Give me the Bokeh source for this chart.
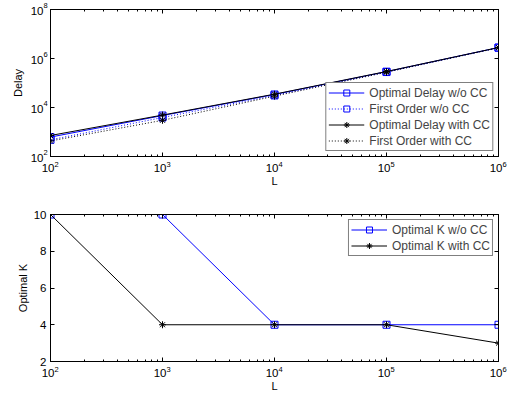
from bokeh.plotting import figure
from bokeh.models import (FixedTicker, LogAxis, LinearAxis, Legend, LegendItem,
                          Range1d, CustomJSTickFormatter)
from bokeh.core.properties import value
from bokeh.layouts import column
from bokeh.embed import file_html
from bokeh.resources import INLINE

# ---------------- data ----------------
L = [1e2, 1e3, 1e4, 1e5, 1e6]
delay_opt_wo_cc = [620, 4700, 34000, 2.9e5, 2.8e6]
delay_first_wo_cc = [480, 3900, 31000, 2.8e5, 2.75e6]
delay_opt_cc = [720, 4900, 35000, 2.95e5, 2.8e6]
delay_first_cc = [430, 3000, 29000, 2.75e5, 2.75e6]

k_wo_cc = [10, 10, 4, 4, 4]
k_cc = [10, 4, 4, 4, 3]

x_ticks = [1e2, 1e3, 1e4, 1e5, 1e6]
x_tick_base = ["10", "10", "10", "10", "10"]
x_tick_exp = ["2", "3", "4", "5", "6"]
delay_ticks = [1e2, 1e4, 1e6, 1e8]
delay_tick_base = ["10", "10", "10", "10"]
delay_tick_exp = ["2", "4", "6", "8"]
k_ticks = [2, 4, 6, 8, 10]
k_tick_labels = ["2", "4", "6", "8", "10"]

FONT = "Liberation Sans"
BLUE = "#0000ff"
BASE_SIZE = "11.5px"
EXP_SIZE = "7.5px"
x_minor = [m * 10 ** e for e in range(2, 6) for m in range(2, 10)]
blank = CustomJSTickFormatter(code="return ''")


def style_axis(ax, minor=True, labels=True):
    ax.axis_line_color = "black"
    ax.axis_line_width = 1
    ax.major_tick_in = 4
    ax.major_tick_out = 0
    ax.minor_tick_in = 2 if minor else 0
    ax.minor_tick_out = 0
    ax.major_tick_line_color = "black"
    ax.minor_tick_line_color = "black"
    ax.major_label_text_font = FONT
    ax.major_label_text_font_size = BASE_SIZE
    ax.major_label_text_color = "black"
    ax.major_label_standoff = 4 if labels else 0
    ax.axis_label_text_font = FONT
    ax.axis_label_text_font_size = "11px"
    ax.axis_label_text_font_style = "normal"
    ax.axis_label_text_color = "black"
    ax.axis_label_standoff = 4


def add_text(p, xs, ys, texts, size, align, baseline, xo, yo):
    p.text(x=xs, y=ys, text=texts, level="overlay",
           text_font=value(FONT), text_font_size=size, text_color="black",
           text_align=align, text_baseline=baseline, x_offset=xo, y_offset=yo)


def power_labels_x(p, y0):
    ys = [y0] * len(x_ticks)
    add_text(p, x_ticks, ys, x_tick_base, BASE_SIZE, "right", "top", 4, 7)
    add_text(p, x_ticks, ys, x_tick_exp, EXP_SIZE, "left", "top", 4, 5)


# ---------------- top figure ----------------
p1 = figure(width=510, height=200, x_axis_type="log", y_axis_type="log",
            x_range=Range1d(1e2, 1e6), y_range=Range1d(1e2, 1e8),
            output_backend="svg", toolbar_location=None,
            min_border_left=50, min_border_right=12, min_border_top=9,
            min_border_bottom=44)
p1.xgrid.visible = False
p1.ygrid.visible = False
p1.outline_line_color = "black"

p1.xaxis.ticker = FixedTicker(ticks=x_ticks, minor_ticks=x_minor)
p1.xaxis.formatter = blank
p1.xaxis.axis_label = "L"
style_axis(p1.xaxis[0], labels=False)
p1.xaxis.axis_label_standoff = 18
p1.yaxis.ticker = FixedTicker(ticks=delay_ticks)
p1.yaxis.formatter = blank
p1.yaxis.axis_label = "Delay"
style_axis(p1.yaxis[0], minor=False, labels=False)
p1.yaxis.axis_label_standoff = 27

top_ax = LogAxis(ticker=FixedTicker(ticks=x_ticks, minor_ticks=x_minor), formatter=blank)
style_axis(top_ax, labels=False)
p1.add_layout(top_ax, "above")
right_ax = LogAxis(ticker=FixedTicker(ticks=delay_ticks), formatter=blank)
style_axis(right_ax, minor=False, labels=False)
p1.add_layout(right_ax, "right")

power_labels_x(p1, 1e2)
yx = [1e2] * len(delay_ticks)
add_text(p1, yx, delay_ticks, delay_tick_base, BASE_SIZE, "right", "middle", -7, 1)
add_text(p1, yx, delay_ticks, delay_tick_exp, EXP_SIZE, "left", "middle", -7, -4)

r1l = p1.line(L, delay_opt_wo_cc, line_color=BLUE, line_width=1)
r1m = p1.scatter(L, delay_opt_wo_cc, marker="square", size=7, line_color=BLUE,
                 fill_color=None, line_width=1)
r2l = p1.line(L, delay_first_wo_cc, line_color=BLUE, line_width=1, line_dash="1 2")
r2m = p1.scatter(L, delay_first_wo_cc, marker="square", size=7, line_color=BLUE,
                 fill_color=None, line_width=1)
r3l = p1.line(L, delay_opt_cc, line_color="black", line_width=1)
r3m = p1.scatter(L, delay_opt_cc, marker="asterisk", size=7, line_color="black",
                 line_width=1)
r4l = p1.line(L, delay_first_cc, line_color="black", line_width=1, line_dash="1 2")
r4m = p1.scatter(L, delay_first_cc, marker="asterisk", size=7, line_color="black",
                 line_width=1)

leg1 = Legend(items=[
    LegendItem(label="Optimal Delay w/o CC", renderers=[r1l, r1m]),
    LegendItem(label="First Order w/o CC", renderers=[r2l, r2m]),
    LegendItem(label="Optimal Delay with CC", renderers=[r3l, r3m]),
    LegendItem(label="First Order with CC", renderers=[r4l, r4m]),
], location="bottom_right")

# ---------------- bottom figure ----------------
p2 = figure(width=510, height=194, x_axis_type="log",
            x_range=Range1d(1e2, 1e6), y_range=Range1d(2, 10),
            output_backend="svg", toolbar_location=None,
            min_border_left=50, min_border_right=12, min_border_top=14,
            min_border_bottom=33)
p2.xgrid.visible = False
p2.ygrid.visible = False
p2.outline_line_color = "black"

p2.xaxis.ticker = FixedTicker(ticks=x_ticks, minor_ticks=x_minor)
p2.xaxis.formatter = blank
p2.xaxis.axis_label = "L"
style_axis(p2.xaxis[0], labels=False)
p2.xaxis.axis_label_standoff = 18
p2.yaxis.ticker = FixedTicker(ticks=k_ticks)
p2.yaxis.major_label_overrides = dict(zip(k_ticks, k_tick_labels))
p2.yaxis.axis_label = "Optimal K"
style_axis(p2.yaxis[0], minor=False)
p2.yaxis.axis_label_standoff = 2

top_ax2 = LogAxis(ticker=FixedTicker(ticks=x_ticks, minor_ticks=x_minor), formatter=blank)
style_axis(top_ax2, labels=False)
p2.add_layout(top_ax2, "above")
right_ax2 = LinearAxis(ticker=FixedTicker(ticks=k_ticks), formatter=blank)
style_axis(right_ax2, minor=False, labels=False)
p2.add_layout(right_ax2, "right")

power_labels_x(p2, 2)

k1l = p2.line(L, k_wo_cc, line_color=BLUE, line_width=1)
k1m = p2.scatter(L, k_wo_cc, marker="square", size=7, line_color=BLUE,
                 fill_color=None, line_width=1)
k2l = p2.line(L, k_cc, line_color="black", line_width=1)
k2m = p2.scatter(L, k_cc, marker="asterisk", size=7, line_color="black", line_width=1)

leg2 = Legend(items=[
    LegendItem(label="Optimal K w/o CC", renderers=[k1l, k1m]),
    LegendItem(label="Optimal K with CC", renderers=[k2l, k2m]),
], location="top_right")

for p, leg in ((p1, leg1), (p2, leg2)):
    leg.border_line_color = "black"
    leg.border_line_width = 1
    leg.background_fill_color = "white"
    leg.background_fill_alpha = 1
    leg.label_text_font = FONT
    leg.label_text_font_size = "12px"
    leg.label_standoff = 5
    leg.glyph_width = 36
    leg.glyph_height = 15
    leg.label_height = 15
    leg.spacing = 1
    leg.padding = 2
    leg.margin = 5
    p.add_layout(leg)

layout = column(p1, p2, spacing=0)
open("out.html", "w").write(file_html(layout, INLINE))
